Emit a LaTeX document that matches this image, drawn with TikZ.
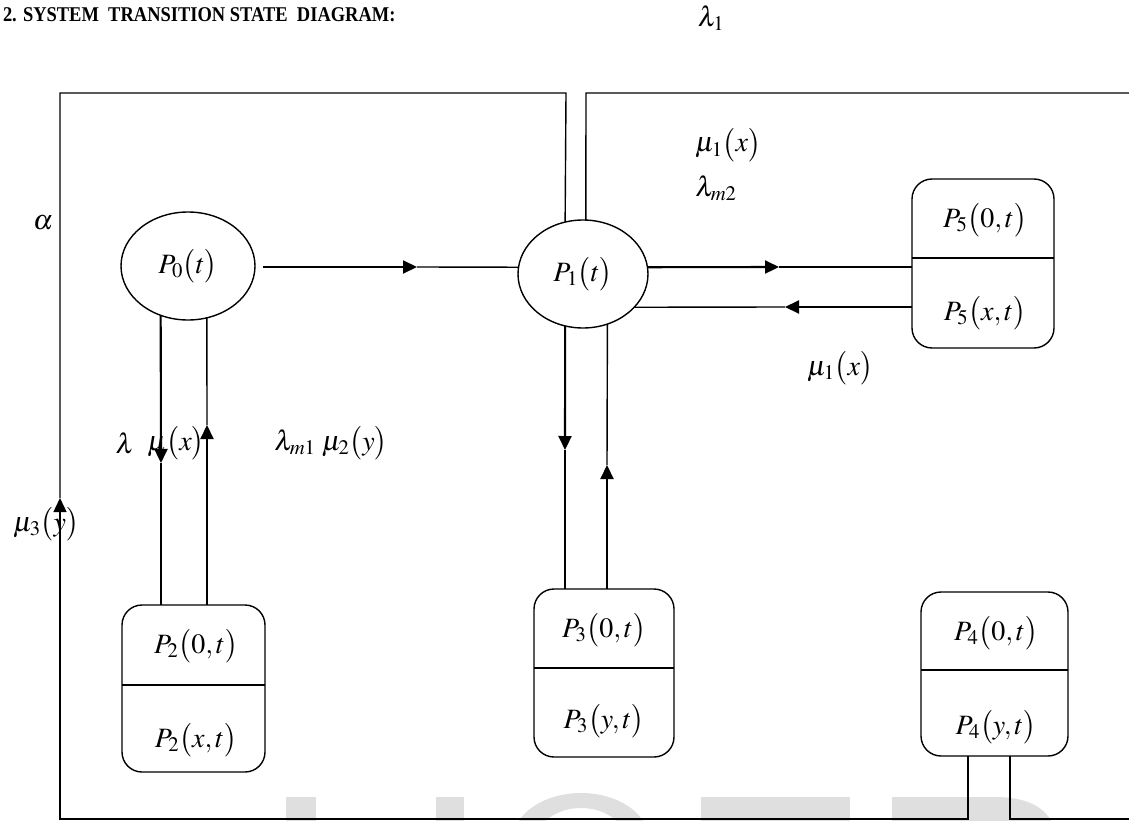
\documentclass[tikz,border=0pt]{standalone}
\usepackage{mathptmx}
\usepackage[no-math]{fontspec}
\setmainfont{Liberation Serif}
\newfontfamily\headfont[FakeStretch=0.88]{Liberation Serif}
\usetikzlibrary{arrows.meta,shapes.geometric}

\begin{document}
\begin{tikzpicture}[x=1pt,y=-1pt,
  every node/.style={inner sep=0pt, outer sep=0pt},
  line/.style={line width=1.4pt},
  tip/.style={line width=2.1pt, -{Triangle[length=14pt,width=13pt]}},
  lbl/.style={font=\fontsize{28}{28}\selectfont},
  state/.style={draw, line width=1.4pt, ellipse, minimum height=108pt, lbl},
  box/.style={draw, line width=1.4pt, rounded corners=20pt},
  wm/.style={fill=gray!25, draw=none}]
\useasboundingbox (0,0) rectangle (1129,821);

% faint watermark letters along the lower edge
\begin{scope}
  \clip (0,0) rectangle (1129,821);
  \fill[wm] (286,797) rectangle (316,830);
  \fill[wm] (436,797) rectangle (464,830);
  \fill[wm, even odd rule] (581,840) ellipse [x radius=68, y radius=47]
                           (581,840) ellipse [x radius=44, y radius=32];
  \fill[wm] (701,797) rectangle (850,830);
  \fill[wm] (892,830) -- (892,797) -- (995,797)
            .. controls (1025,797) and (1048,806) .. (1055,830) -- cycle;
\end{scope}

% heading
\node[anchor=base west, font=\headfont\bfseries\fontsize{21}{21}\selectfont] (title) at (3,22)
  {2. SYSTEM\ \ TRANSITION STATE\ \ DIAGRAM:};
\node[lbl] (lam1) at (711,18) {$\lambda_1$};

% states
\node[state, minimum width=134pt] (P0) at (188,266) {$P_0\bigl(t\bigr)$};
\node[state, minimum width=130pt] (P1) at (583,274) {$P_1\bigl(t\bigr)$};

\node[box, minimum width=143pt, minimum height=167pt] (B2) at (193.5,688.5) {};
\draw[line] ([yshift=3.5pt]B2.west) -- ([yshift=3.5pt]B2.east);
\node[lbl] (B2a) at (196,646) {$P_2\bigl(0,t\bigr)$};
\node[lbl] (B2b) at (196,740) {$P_2\bigl(x,t\bigr)$};

\node[box, minimum width=140pt, minimum height=168pt] (B3) at (604,673) {};
\draw[line] ([yshift=5pt]B3.west) -- ([yshift=5pt]B3.east);
\node[lbl] (B3a) at (604,630) {$P_3\bigl(0,t\bigr)$};
\node[lbl] (B3b) at (604,721) {$P_3\bigl(y,t\bigr)$};

\node[box, minimum width=147pt, minimum height=164pt] (B4) at (994.5,674) {};
\draw[line] ([yshift=4pt]B4.west) -- ([yshift=4pt]B4.east);
\node[lbl] (B4a) at (996,633) {$P_4\bigl(0,t\bigr)$};
\node[lbl] (B4b) at (996,727) {$P_4\bigl(y,t\bigr)$};

\node[box, minimum width=142pt, minimum height=169pt] (B5) at (983,263.5) {};
\draw[line] ([yshift=5.5pt]B5.west) -- ([yshift=5.5pt]B5.east);
\node[lbl] (B5a) at (985,220) {$P_5\bigl(0,t\bigr)$};
\node[lbl] (B5b) at (985,313) {$P_5\bigl(x,t\bigr)$};

% turning points and arrow tips
\coordinate (a01) at (417,267);
\coordinate (a02) at (161,463);
\coordinate (a20) at (207,425);
\coordinate (a13) at (565,450);
\coordinate (a31) at (607,465);
\coordinate (a15) at (779,267);
\coordinate (a51) at (785,307);
\coordinate (a3) at (60,498);
\coordinate (tl) at (60,93);
\coordinate (tm) at (566,93);
\coordinate (tr) at (586,93);
\coordinate (te) at (1129,93);
\coordinate (bl) at (60,819);
\coordinate (b4l) at (968,819);
\coordinate (b4r) at (1010,819);
\coordinate (be) at (1129,819);

% P0 <-> P1
\draw[tip] ([xshift=8pt,yshift=-1pt]P0.east) -- (a01);
\draw[line] (a01) -- (P1.174);

% P0 <-> P2
\draw[tip] (P0.241) -- (a02);
\draw[line] (a02) -- (B2.north -| a02);
\draw[tip] (B2.north -| a20) -- (a20);
\draw[line] (a20) -- (P0.290);

% P1 <-> P3
\draw[tip] (P1.251) -- (a13);
\draw[line] (a13) -- (B3.north -| a13);
\draw[tip] (B3.north -| a31) -- (a31);
\draw[line] (a31) -- (P1.296);

% P1 <-> P5
\draw[tip] (P1.6) -- (a15);
\draw[line] (a15) -- (B5.west |- a15);
\draw[tip] (B5.west |- a51) -- (a51);
\draw[line] (a51) -- (P1.327);

% outer loops
\draw[line, -{Triangle[length=14pt,width=13pt]}] (B4.south -| b4l) -- (b4l) -- (bl) -- (a3);
\draw[line] (a3) -- (tl) -- (tm) -- (P1.109);
\draw[line] (P1.87) -- (tr) -- (te);
\draw[line] (B4.south -| b4r) -- (b4r) -- (be);

% rates
\node[lbl] (alpha) at (43,223) {$\alpha$};
\node[lbl] (lam) at (125,443) {$\lambda$};
\node[lbl] (mux) at (176,443) {$\mu\bigl(x\bigr)$};
\node[lbl] (lm1) at (331,443) {$\lambda_{m1}\;\mu_2\bigl(y\bigr)$};
\node[lbl] (mu3) at (46,524) {$\mu_3\bigl(y\bigr)$};
\node[lbl] (mu1a) at (728,145) {$\mu_1\bigl(x\bigr)$};
\node[lbl] (lm2) at (716,188) {$\lambda_{m2}$};
\node[lbl] (mu1b) at (840,368) {$\mu_1\bigl(x\bigr)$};
\end{tikzpicture}
\end{document}
